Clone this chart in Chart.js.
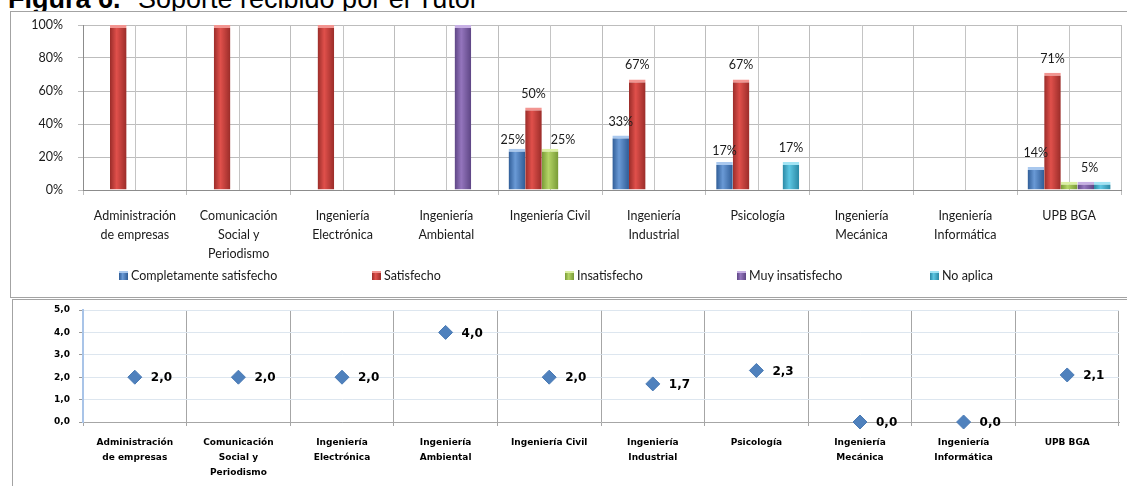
<!DOCTYPE html>
<html lang="es">
<head>
<meta charset="utf-8">
<title>Figura 6. Soporte recibido por el Tutor</title>
<script src="https://cdn.jsdelivr.net/npm/chart.js@4.4.1/dist/chart.umd.min.js"></script>
<style>
  html, body { margin: 0; padding: 0; background: #fff; }
  body { position: relative; width: 1127px; height: 486px; overflow: hidden; }
  .title { position: absolute; top: -14px; font-family: "Liberation Sans", Arial, sans-serif;
           font-size: 27px; line-height: 27px; color: #000; white-space: nowrap; }
  #frameTop { position: absolute; left: 10px; top: 11px; width: 1140px; height: 285px;
              border: 1px solid #a3a3a3; background: #fff; }
  #frameBottom { position: absolute; left: 12px; top: 299px; width: 1140px; height: 200px;
                 border: 1px solid #a3a3a3; background: #fff; }
  #bars { position: absolute; left: 11px; top: 12px; }
  #dots { position: absolute; left: 13px; top: 300px; }
  .legend-item { position: absolute; top: 268px; height: 14px; display: flex; align-items: center;
                 font: 12.5px Lato, sans-serif; color: #1a1a1a; white-space: nowrap; }
  .legend-item i { display: inline-block; width: 9px; height: 9px; margin-right: 3px; }
</style>
</head>
<body>
<div class="title" style="left:8px"><b>Figura 6.</b></div>
<div class="title" style="left:138px">Soporte recibido por el Tutor</div>
<div id="frameTop"></div>
<div id="frameBottom"></div>
<canvas id="bars" width="1116" height="284"></canvas>
<div id="legend"></div>
<canvas id="dots" width="1114" height="186"></canvas>

<script>
// Programs (shared by both charts)
const categories = [
  ["Administración", "de empresas"],
  ["Comunicación", "Social y", "Periodismo"],
  ["Ingeniería", "Electrónica"],
  ["Ingeniería", "Ambiental"],
  "Ingeniería Civil",
  ["Ingeniería", "Industrial"],
  "Psicología",
  ["Ingeniería", "Mecánica"],
  ["Ingeniería", "Informática"],
  "UPB BGA"
];

// Share of answers per program (%)
const seriesNames = ["Completamente satisfecho", "Satisfecho", "Insatisfecho", "Muy insatisfecho", "No aplica"];
const completamenteSatisfecho = [0, 0, 0, 0, 25, 33, 17, 0, 0, 14];
const satisfecho              = [100, 100, 100, 0, 50, 67, 67, 0, 0, 71];
const insatisfecho            = [0, 0, 0, 0, 25, 0, 0, 0, 0, 5];
const muyInsatisfecho         = [0, 0, 0, 100, 0, 0, 0, 0, 0, 5];
const noAplica                = [0, 0, 0, 0, 0, 0, 17, 0, 0, 5];
const percentTicks = [0, 20, 40, 60, 80, 100];

// Bars that carry a value label: [series, program]
const labeledBars = [[0, 4], [1, 4], [2, 4], [0, 5], [1, 5], [0, 6], [1, 6], [4, 6], [0, 9], [1, 9], [3, 9]];

// Average score per program
const averageScore = [2.0, 2.0, 2.0, 4.0, 2.0, 1.7, 2.3, 0.0, 0.0, 2.1];
const scoreTicks = [0, 1, 2, 3, 4, 5];

// Office-style palette: edge, highlight, top bevel
const palette = [
  { base: "#4f81bd", dark: "#2f5c96", light: "#6a9ad6", cap: "#a9c8ee" },
  { base: "#c0504d", dark: "#9a2c29", light: "#e0504b", cap: "#f29591" },
  { base: "#9bbb59", dark: "#789a36", light: "#b4d466", cap: "#dcf0a4" },
  { base: "#8064a2", dark: "#5d4584", light: "#9475bd", cap: "#c7b0e4" },
  { base: "#4bacc6", dark: "#2a88a4", light: "#5cc6e2", cap: "#a2e4f4" }
];
const seriesData = [completamenteSatisfecho, satisfecho, insatisfecho, muyInsatisfecho, noAplica];

// Label nudges so neighbouring value labels do not collide ("series,program": [dx, dy])
const labelNudge = { "0,4": [-4, 5], "2,4": [13, 5], "0,6": [0, 3], "3,9": [4, 0] };

function barFill(i) {
  return (c) => {
    const el = c.element;
    const p = palette[i];
    if (!el || !Number.isFinite(el.x) || !Number.isFinite(el.width)) return p.base;
    const g = c.chart.ctx.createLinearGradient(el.x - el.width / 2, 0, el.x + el.width / 2, 0);
    g.addColorStop(0, p.dark);
    g.addColorStop(0.4, p.light);
    g.addColorStop(1, p.dark);
    return g;
  };
}

// Lighter gridlines through the middle of each program
const midLines = {
  id: "midLines",
  beforeDatasetsDraw(chart) {
    const { ctx, chartArea: a, scales: { x } } = chart;
    ctx.save();
    ctx.strokeStyle = "#c4c4c4";
    ctx.lineWidth = 1;
    for (let i = 0; i < x.ticks.length; i++) {
      const px = Math.round(x.getPixelForTick(i)) + 0.5;
      ctx.beginPath();
      ctx.moveTo(px, a.top);
      ctx.lineTo(px, a.bottom);
      ctx.stroke();
    }
    ctx.restore();
  }
};

const barValueLabels = {
  id: "barValueLabels",
  afterDatasetsDraw(chart) {
    const ctx = chart.ctx;
    ctx.save();
    ctx.font = "12.5px Lato, sans-serif";
    ctx.fillStyle = "#1a1a1a";
    ctx.textAlign = "center";
    ctx.textBaseline = "middle";
    labeledBars.forEach(([s, c]) => {
      const el = chart.getDatasetMeta(s).data[c];
      const v = chart.data.datasets[s].data[c];
      const [dx, dy] = labelNudge[s + "," + c] || [0, 0];
      ctx.fillText(v + "%", el.x + dx, el.y - 14 + dy);
    });
    ctx.restore();
  }
};

const barChart = new Chart(document.getElementById("bars"), {
  type: "bar",
  data: {
    labels: categories,
    datasets: seriesNames.map((name, i) => ({
      label: name,
      data: seriesData[i],
      backgroundColor: barFill(i),
      borderColor: palette[i].cap,
      borderWidth: { top: 3, right: 0, bottom: 0, left: 0 },
      borderSkipped: "start",
      categoryPercentage: 0.8,
      barPercentage: 1.0
    }))
  },
  options: {
    responsive: false,
    animation: false,
    events: [],
    layout: { padding: { left: 0, right: 6, top: 13, bottom: 0 } },
    plugins: { legend: { display: false }, tooltip: { enabled: false } },
    scales: {
      x: {
        grid: { offset: true, color: "#bdbdbd", tickLength: 5 },
        border: { color: "#8c8c8c" },
        ticks: {
          font: { family: "Lato", size: 12.5, lineHeight: "19px" },
          color: "#1a1a1a", padding: 11, maxRotation: 0, autoSkip: false
        },
        afterFit(s) { s.height = 106; s.paddingLeft = 0; s.paddingRight = 0; }
      },
      y: {
        min: percentTicks[0],
        max: percentTicks[percentTicks.length - 1],
        grid: { color: "#bdbdbd", tickLength: 5 },
        border: { color: "#8c8c8c" },
        ticks: {
          callback: (v) => v + "%",
          font: { family: "Lato", size: 12.5 },
          color: "#1a1a1a", padding: 15
        },
        afterBuildTicks(s) { s.ticks = percentTicks.map((v) => ({ value: v })); },
        afterFit(s) { s.width = 72; s.paddingTop = 0; s.paddingBottom = 0; }
      }
    }
  },
  plugins: [midLines, barValueLabels]
});
// second pass so each bar's gradient follows its own position
barChart.update("none");

// Legend row under the bar chart
const legendLeft = [119, 372, 565, 737, 930];
const legendEl = document.getElementById("legend");
seriesNames.forEach((name, i) => {
  const item = document.createElement("div");
  item.className = "legend-item";
  item.style.left = legendLeft[i] + "px";
  const sw = document.createElement("i");
  const p = palette[i];
  sw.style.background = `linear-gradient(to bottom, ${p.cap} 0, ${p.cap} 2px, transparent 2px), linear-gradient(to right, ${p.dark}, ${p.light} 40%, ${p.dark})`;
  item.appendChild(sw);
  item.appendChild(document.createTextNode(name));
  legendEl.appendChild(item);
});

const fmtScore = (v) => v.toFixed(1).replace(".", ",");

const scoreLabels = {
  id: "scoreLabels",
  afterDatasetsDraw(chart) {
    const ctx = chart.ctx;
    ctx.save();
    ctx.font = 'bold 12px Verdana, "DejaVu Sans", sans-serif';
    ctx.fillStyle = "#000";
    ctx.textAlign = "left";
    ctx.textBaseline = "middle";
    chart.getDatasetMeta(0).data.forEach((pt, i) => {
      ctx.fillText(fmtScore(chart.data.datasets[0].data[i]), pt.x + 16, pt.y + 1);
    });
    ctx.restore();
  }
};

const boldSmall = { family: 'Verdana, "DejaVu Sans", sans-serif', size: 9, weight: "bold" };

new Chart(document.getElementById("dots"), {
  type: "line",
  data: {
    labels: categories,
    datasets: [{
      label: "Promedio",
      data: averageScore,
      showLine: false,
      pointStyle: "rectRot",
      pointRadius: 7,
      pointHoverRadius: 7,
      pointBackgroundColor: "#4f81bd",
      pointBorderColor: "#4a7ab4",
      pointBorderWidth: 1,
      clip: false
    }]
  },
  options: {
    responsive: false,
    animation: false,
    events: [],
    layout: { padding: { left: 0, right: 6, top: 10, bottom: 0 } },
    plugins: { legend: { display: false }, tooltip: { enabled: false } },
    scales: {
      x: {
        offset: true,
        grid: { offset: true, color: "#a6a6a6", tickLength: 4 },
        border: { color: "#a6a6a6" },
        ticks: {
          font: Object.assign({ lineHeight: "15px" }, boldSmall),
          color: "#000", padding: 9, maxRotation: 0, autoSkip: false
        },
        afterFit(s) { s.height = 64; s.paddingLeft = 0; s.paddingRight = 0; }
      },
      y: {
        min: scoreTicks[0],
        max: scoreTicks[scoreTicks.length - 1],
        grid: { color: "#dde6ef", tickColor: "#9a9a9a", tickLength: 4 },
        border: { color: "#a9c4e8", width: 2 },
        ticks: {
          callback: (v) => fmtScore(v),
          font: boldSmall,
          color: "#000", padding: 9
        },
        afterBuildTicks(s) { s.ticks = scoreTicks.map((v) => ({ value: v })); },
        afterFit(s) { s.width = 70; s.paddingTop = 0; s.paddingBottom = 0; }
      }
    }
  },
  plugins: [scoreLabels]
});
</script>
</body>
</html>
